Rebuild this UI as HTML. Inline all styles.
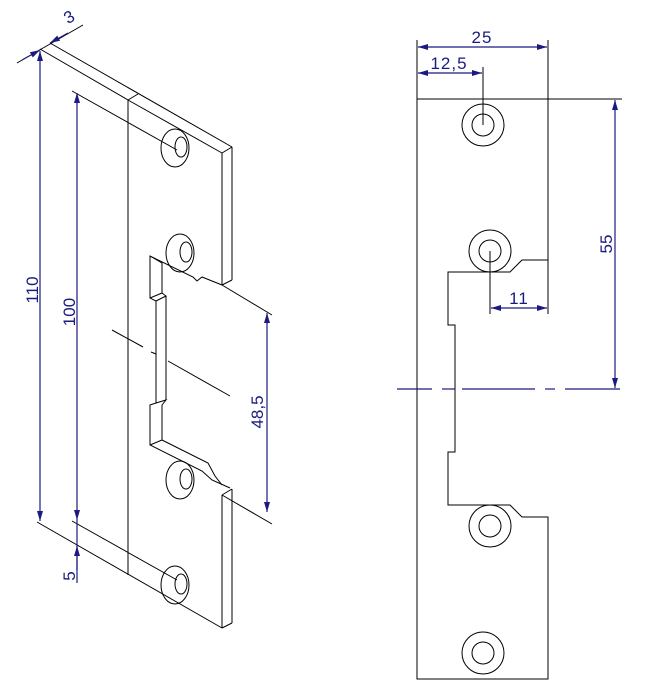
<!DOCTYPE html>
<html><head><meta charset="utf-8"><style>
html,body{margin:0;padding:0;background:#fff;}
svg{display:block}
text{font-family:"Liberation Sans","DejaVu Sans",sans-serif;fill:#1a1a80;font-size:17px}
</style></head><body>
<svg width="651" height="697" viewBox="0 0 651 697" xmlns="http://www.w3.org/2000/svg">
<defs>
<marker id="a" viewBox="0 0 10 6" refX="10" refY="3" markerWidth="10" markerHeight="6" orient="auto-start-reverse" markerUnits="userSpaceOnUse"><path d="M0,0 L10,3 L0,6z" fill="#1a1a80"/></marker>
</defs>
<g fill="none" stroke="#000" stroke-width="1">
<line x1="17" y1="63" x2="83" y2="25"/>
<line x1="40" y1="49" x2="128" y2="100"/>
<line x1="50" y1="43" x2="232" y2="147"/>
<line x1="128" y1="100" x2="138" y2="94"/>
<line x1="128" y1="100" x2="222" y2="153"/>
<line x1="222" y1="153" x2="232" y2="147"/>
<line x1="72" y1="91" x2="177" y2="150"/>
<line x1="128" y1="100" x2="128" y2="575"/>
<line x1="222" y1="153" x2="222" y2="285"/>
<line x1="232" y1="147" x2="232" y2="280"/>
<line x1="222" y1="285" x2="232" y2="280"/>
<ellipse cx="175" cy="148" rx="14" ry="19"/>
<ellipse cx="181" cy="147" rx="6" ry="10"/>
<ellipse cx="180" cy="253" rx="14" ry="19"/>
<ellipse cx="186" cy="252" rx="6" ry="10"/>
<polyline points="222,285 202,277 197,281 193,277 150,256 150,298 156,301 156,403 150,405 150,445 202,471 212,480 230,488"/>
<polyline points="150,256 162,263 162,293 150,298"/>
<polyline points="162,293 166,296 156,301"/>
<line x1="166" y1="296" x2="166" y2="400"/>
<polyline points="156,403 166,400 162,405 162,440 150,445"/>
<polyline points="162,440 208,463 215,476 222,485"/>
<line x1="222" y1="285" x2="272" y2="315"/>
<line x1="222" y1="495" x2="272" y2="524"/>
<line x1="222" y1="495" x2="222" y2="628"/>
<line x1="232" y1="489" x2="232" y2="623"/>
<line x1="222" y1="495" x2="232" y2="489"/>
<line x1="222" y1="628" x2="232" y2="623"/>
<line x1="37" y1="522" x2="222" y2="628"/>
<line x1="72" y1="521" x2="177" y2="580"/>
<ellipse cx="180" cy="480" rx="14" ry="19"/>
<ellipse cx="186" cy="479" rx="6" ry="10"/>
<ellipse cx="175" cy="585" rx="14" ry="19"/>
<ellipse cx="181" cy="584" rx="6" ry="10"/>
<line x1="112" y1="330" x2="143" y2="347"/>
<line x1="151" y1="352" x2="156" y2="354"/>
<line x1="168" y1="361" x2="230" y2="396"/>
<polyline points="417,99 548,99 548,260 522,260 510,272 448,272 448,325 455,325 455,452 448,452 448,505 510,505 522,517 548,517 548,679 417,679 417,99"/>
<line x1="548" y1="99" x2="622" y2="99"/>
<line x1="417" y1="40" x2="417" y2="99"/>
<line x1="548" y1="40" x2="548" y2="314"/>
<line x1="483" y1="67" x2="483" y2="125"/>
<line x1="490" y1="251" x2="490" y2="314"/>
<circle cx="483" cy="125" r="21"/><circle cx="483" cy="125" r="11"/>
<circle cx="490" cy="251" r="21"/><circle cx="490" cy="251" r="11"/>
<circle cx="490" cy="526" r="21"/><circle cx="490" cy="526" r="11"/>
<circle cx="483" cy="653" r="21"/><circle cx="483" cy="653" r="11"/>
</g>
<g stroke="#1a1a80" stroke-width="1.2" fill="none">
<line x1="620" y1="389" x2="565" y2="389"/>
<line x1="555" y1="389" x2="545" y2="389"/>
<line x1="535" y1="389" x2="462" y2="389"/>
<line x1="455" y1="389" x2="442" y2="389"/>
<line x1="432" y1="389" x2="397" y2="389"/>
<line x1="418" y1="47" x2="547" y2="47" marker-start="url(#a)" marker-end="url(#a)"/>
<line x1="418" y1="73" x2="482" y2="73" marker-start="url(#a)" marker-end="url(#a)"/>
<line x1="491" y1="308" x2="547" y2="308" marker-start="url(#a)" marker-end="url(#a)"/>
<line x1="615" y1="100" x2="615" y2="388" marker-start="url(#a)" marker-end="url(#a)"/>
<line x1="40" y1="51" x2="40" y2="521" marker-start="url(#a)" marker-end="url(#a)"/>
<line x1="77" y1="93" x2="77" y2="520" marker-start="url(#a)" marker-end="url(#a)"/>
<line x1="77" y1="520" x2="77" y2="583"/>
<line x1="77" y1="570" x2="77" y2="546" marker-end="url(#a)"/>
<line x1="267" y1="313" x2="267" y2="512" marker-start="url(#a)" marker-end="url(#a)"/>
<line x1="22" y1="60" x2="40" y2="50" marker-end="url(#a)"/>
<line x1="68" y1="33" x2="50" y2="43" marker-end="url(#a)"/>
</g>
<text x="482" y="43" text-anchor="middle" letter-spacing="1">25</text>
<text x="449" y="69" text-anchor="middle" letter-spacing="1">12,5</text>
<text x="519" y="304" text-anchor="middle" letter-spacing="1">11</text>
<text transform="translate(612,244) rotate(-90)" text-anchor="middle">55</text>
<text transform="translate(38,290) rotate(-90)" text-anchor="middle">110</text>
<text transform="translate(75,312) rotate(-90)" text-anchor="middle">100</text>
<text transform="translate(75,576) rotate(-90)" text-anchor="middle">5</text>
<text transform="translate(263,412) rotate(-90)" text-anchor="middle">48,5</text>
<text transform="translate(72,22) rotate(-30)" text-anchor="middle">3</text>
</svg>
</body></html>
